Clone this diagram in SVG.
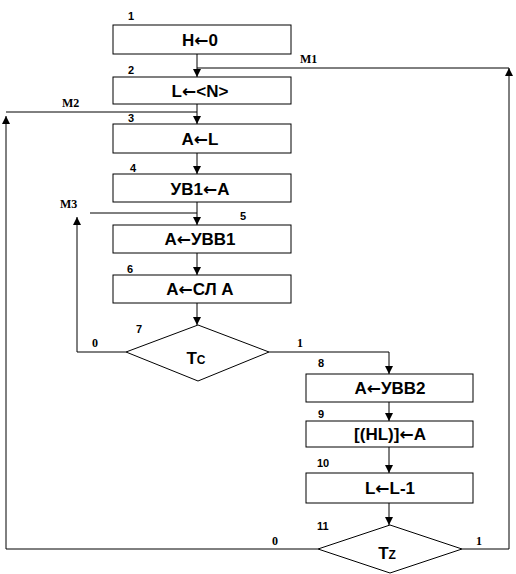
<svg xmlns="http://www.w3.org/2000/svg" width="516" height="574" viewBox="0 0 516 574">
<style>
.box{fill:#fff;stroke:#000;stroke-width:1}
.dia{fill:#fff;stroke:#000;stroke-width:1}
.t{font-family:"Liberation Sans",Arial,sans-serif;font-weight:bold;font-size:17px;text-anchor:middle;fill:#000}
.a{font-family:"DejaVu Sans",sans-serif;font-weight:bold;font-size:17px}
.n{font-family:"Liberation Sans",Arial,sans-serif;font-weight:bold;font-size:11px;fill:#000}
.m{font-family:"Liberation Serif","Times New Roman",serif;font-weight:bold;font-size:12px;fill:#000}
.c{fill:none;stroke:#000;stroke-width:1}
</style>
<defs>
<marker id="ah" viewBox="0 0 8 10" refX="8" refY="5" markerWidth="8" markerHeight="10" markerUnits="userSpaceOnUse" orient="auto">
<path d="M0,1 L8,5 L0,9 Z" fill="#000"/>
</marker>
</defs>
<rect width="516" height="574" fill="#fff"/>
<g id="connectors">
<path class="c" d="M197,54 V77" marker-end="url(#ah)"/>
<path class="c" d="M197,104 V124" marker-end="url(#ah)"/>
<path class="c" d="M197,153 V174" marker-end="url(#ah)"/>
<path class="c" d="M197,202 V225" marker-end="url(#ah)"/>
<path class="c" d="M197,253 V275" marker-end="url(#ah)"/>
<path class="c" d="M197,303 V325" marker-end="url(#ah)"/>
<path class="c" d="M269,352 H389 V374" marker-end="url(#ah)"/>
<path class="c" d="M389,402 V421" marker-end="url(#ah)"/>
<path class="c" d="M389,447 V473" marker-end="url(#ah)"/>
<path class="c" d="M389,503 V525" marker-end="url(#ah)"/>
<path class="c" d="M126,352 H77 V217" marker-end="url(#ah)"/>
<path class="c" d="M90,213 H197"/>
<path class="c" d="M318,549 H6 V116" marker-end="url(#ah)"/>
<path class="c" d="M6,112 H197"/>
<path class="c" d="M462,549 H509 V68" marker-end="url(#ah)"/>
<path class="c" d="M509,68 H197"/>
</g>
<g id="labels">
<text class="m" x="300" y="63">M1</text>
<text class="m" x="62" y="107">M2</text>
<text class="m" x="60" y="208">M3</text>
<text class="m" x="92" y="347">0</text>
<text class="m" x="297" y="347">1</text>
<text class="m" x="272" y="545">0</text>
<text class="m" x="476" y="545">1</text>
</g>
<g id="n1"><text class="n" x="128" y="20">1</text><rect class="box" x="113" y="25" width="178" height="29"/><text class="t" x="200" y="46">Н<tspan class="a">←</tspan>0</text></g>
<g id="n2"><text class="n" x="128" y="74">2</text><rect class="box" x="113" y="77" width="178" height="27"/><text class="t" x="200" y="97">L<tspan class="a">←</tspan>&lt;N&gt;</text></g>
<g id="n3"><text class="n" x="128" y="122">3</text><rect class="box" x="113" y="124" width="178" height="29"/><text class="t" x="200" y="145">A<tspan class="a">←</tspan>L</text></g>
<g id="n4"><text class="n" x="130" y="172">4</text><rect class="box" x="113" y="174" width="178" height="28"/><text class="t" x="200" y="195">УВ1<tspan class="a">←</tspan>А</text></g>
<g id="n5"><text class="n" x="240" y="220">5</text><rect class="box" x="113" y="225" width="178" height="28"/><text class="t" x="200" y="245">А<tspan class="a">←</tspan>УВВ1</text></g>
<g id="n6"><text class="n" x="127" y="273">6</text><rect class="box" x="113" y="275" width="178" height="28"/><text class="t" x="200" y="295">А<tspan class="a">←</tspan>СЛ А</text></g>
<g id="n7"><text class="n" x="136" y="333">7</text><polygon class="dia" points="198,325 269,352 198,381 126,352"/><text class="t" x="196" y="364">T<tspan font-size="12px">C</tspan></text></g>
<g id="n8"><text class="n" x="318" y="367">8</text><rect class="box" x="306" y="374" width="167" height="28"/><text class="t" x="390" y="394">А<tspan class="a">←</tspan>УВВ2</text></g>
<g id="n9"><text class="n" x="318" y="418">9</text><rect class="box" x="306" y="421" width="167" height="26"/><text class="t" x="390" y="440">[(HL)]<tspan class="a">←</tspan>A</text></g>
<g id="n10"><text class="n" x="317" y="467">10</text><rect class="box" x="306" y="473" width="167" height="30"/><text class="t" x="390" y="494">L<tspan class="a">←</tspan>L-1</text></g>
<g id="n11"><text class="n" x="317" y="530">11</text><polygon class="dia" points="390,525 462,549 390,573 318,549"/><text class="t" x="387" y="559">T<tspan font-size="12px">Z</tspan></text></g>
</svg>
